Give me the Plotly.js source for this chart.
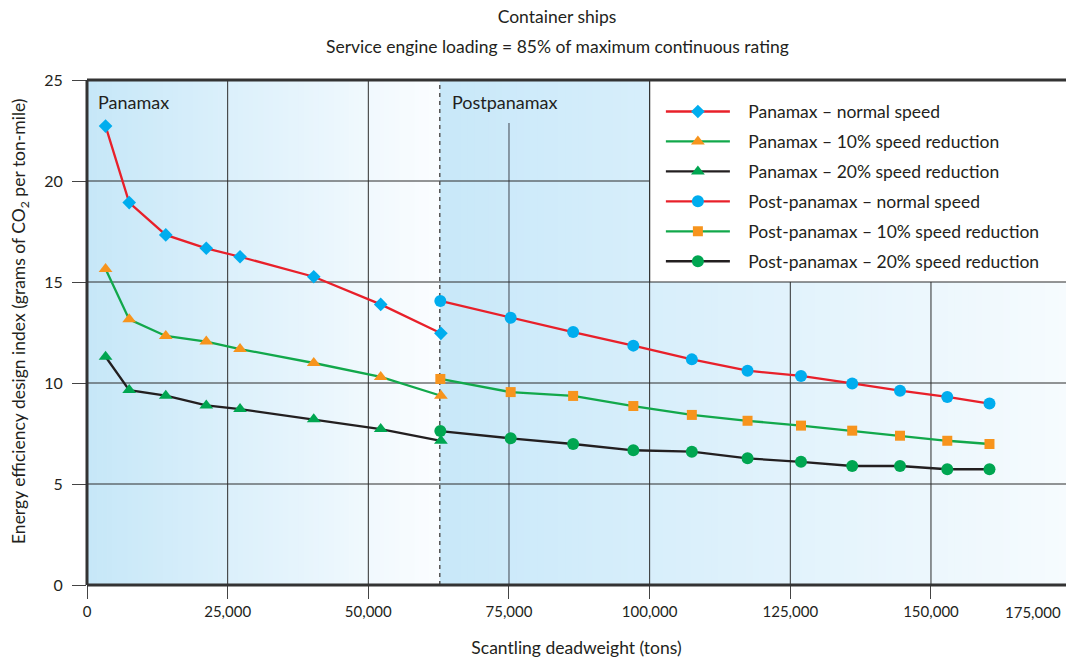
<!DOCTYPE html>
<html><head><meta charset="utf-8">
<script src="https://cdn.plot.ly/plotly-3.0.1.min.js"></script>
<style>html,body{margin:0;padding:0;background:#fff}</style>
</head><body><div id="chart" style="width:1066px;height:658px"></div>
<script>
// ---- data ----
const panamaxDwt = [3300, 7500, 14000, 21200, 27200, 40300, 52200, 62900];
const panamaxNormal = [22.72, 18.93, 17.33, 16.67, 16.25, 15.26, 13.89, 12.46];
const panamax10 = [15.64, 13.15, 12.33, 12.05, 11.68, 10.99, 10.30, 9.37];
const panamax20 = [11.30, 9.65, 9.37, 8.89, 8.71, 8.20, 7.72, 7.14];
const postDwt = [62800, 75300, 86400, 97100, 107500, 117400, 126900, 136000, 144500, 152900, 160400];
const postNormal = [14.06, 13.23, 12.52, 11.85, 11.17, 10.61, 10.35, 9.98, 9.62, 9.31, 8.98];
const post10 = [10.20, 9.55, 9.36, 8.86, 8.42, 8.13, 7.89, 7.64, 7.39, 7.14, 6.98];
const post20 = [7.62, 7.26, 6.98, 6.67, 6.60, 6.27, 6.10, 5.89, 5.89, 5.73, 5.73];
const seriesNames = [
  'Panamax – normal speed',
  'Panamax – 10% speed reduction',
  'Panamax – 20% speed reduction',
  'Post-panamax – normal speed',
  'Post-panamax – 10% speed reduction',
  'Post-panamax – 20% speed reduction'
];
const xTickVals = [0, 25000, 50000, 75000, 100000, 125000, 150000];
const xTickText = ['0', '25,000', '50,000', '75,000', '100,000', '125,000', '150,000'];
const lastXTickLabel = '175,000';
const yTickVals = [0, 5, 10, 15, 20, 25];
const regionBoundary = 62700;
const xMax = 174000;
const yMax = 25;

// ---- styles ----
const FONT = 'Lato, "Open Sans", sans-serif';
const TXT = '#231f20';
const RED = '#e8202a', GREEN = '#12a84b', BLACK = '#231f20';
const BLUE = '#00adee', ORANGE = '#f7941d', MGREEN = '#00a651';
const NB = '\u00a0\u00a0\u00a0';

function mk(x, y, name, lineColor, symbol, mColor, size) {
  return {
    type: 'scatter', mode: 'lines+markers', x: x, y: y, name: NB + name,
    legendgroup: name,
    line: {color: lineColor, width: 2.3},
    marker: {symbol: symbol, color: mColor, size: size, line: {width: 0}},
    hoverinfo: 'x+y+name'
  };
}
const traces = [
  mk(panamaxDwt, panamaxNormal, seriesNames[0], RED, 'diamond', BLUE, 10.5),
  mk(panamaxDwt, panamax10, seriesNames[1], GREEN, 'triangle-up', ORANGE, 12),
  mk(panamaxDwt, panamax20, seriesNames[2], BLACK, 'triangle-up', MGREEN, 12),
  mk(postDwt, postNormal, seriesNames[3], RED, 'circle', BLUE, 12),
  mk(postDwt, post10, seriesNames[4], GREEN, 'square', ORANGE, 10),
  mk(postDwt, post20, seriesNames[5], BLACK, 'circle', MGREEN, 12)
];

// ---- background gradients (stripes) ----
function hex2rgb(h){return [parseInt(h.substr(1,2),16),parseInt(h.substr(3,2),16),parseInt(h.substr(5,2),16)];}
function lerp(c1, c2, t){const a=hex2rgb(c1),b=hex2rgb(c2);return 'rgb('+a.map((v,i)=>Math.round(v+(b[i]-v)*t)).join(',')+')';}
const shapes = [];
function gradient(x0, x1, c0, c1, n) {
  for (let i = 0; i < n; i++) {
    shapes.push({type:'rect', layer:'below', xref:'x', yref:'y',
      x0: x0 + (x1-x0)*i/n, x1: x0 + (x1-x0)*(i+1)/n + (x1-x0)*0.002, y0: 0, y1: yMax,
      fillcolor: lerp(c0, c1, i/(n-1)), line:{width:0}});
  }
}
gradient(0, regionBoundary, '#c6e7f8', '#fbfdff', 70);
gradient(regionBoundary, xMax, '#c8e8f9', '#f6fbfe', 90);

// ---- grid lines ----
const GRID = '#2d2d2d';
function vline(x, y0, y1, color, w){shapes.push({type:'line',layer:'between',xref:'x',yref:'y',x0:x,x1:x,y0:y0,y1:y1,line:{color:color,width:w}});}
function hline(y, x0, x1, color, w){shapes.push({type:'line',layer:'between',xref:'x',yref:'y',x0:x0,x1:x1,y0:y,y1:y,line:{color:color,width:w}});}
vline(25000, 0, 25, GRID, 1);
vline(50000, 0, 25, GRID, 1);
vline(75000, 0, 22.87, '#6f7d88', 1.5);
vline(100000, 0, 15, GRID, 1);
vline(125000, 0, 15, GRID, 1);
vline(150000, 0, 15, GRID, 1);
hline(5, 0, xMax, GRID, 1);
hline(10, 0, xMax, GRID, 1);
hline(15, 0, 100000, GRID, 1);
hline(20, 0, 100000, GRID, 1);
// legend box
shapes.push({type:'rect',layer:'between',xref:'x',yref:'y',x0:100000,x1:xMax*1.01,y0:15,y1:25,fillcolor:'#ffffff',line:{color:GRID,width:1.2}});
// region boundary (dashed)
shapes.push({type:'line',layer:'between',xref:'x',yref:'y',x0:regionBoundary,x1:regionBoundary,y0:0,y1:25,line:{color:'#555',width:1.5,dash:'4px,4px'}});
// frame
shapes.push({type:'line',layer:'above',xref:'paper',yref:'paper',x0:0,x1:0,y0:0,y1:1,line:{color:'#333',width:3}});
shapes.push({type:'line',layer:'above',xref:'paper',yref:'paper',x0:0,x1:1,y0:1,y1:1,line:{color:'#333',width:3}});
shapes.push({type:'line',layer:'above',xref:'paper',yref:'paper',x0:0,x1:1,y0:0,y1:0,line:{color:'#333',width:3}});

const annotations = [
  {text:'Service engine loading = 85% of maximum continuous rating', xref:'paper', yref:'paper', x:0.4806, y:1.0673, xanchor:'center', yanchor:'middle', showarrow:false, font:{family:FONT,size:17.5,color:TXT}},
  {text:'Panamax', xref:'x', yref:'y', x:1600, y:23.9, xanchor:'left', yanchor:'middle', showarrow:false, font:{family:FONT,size:18,color:TXT}},
  {text:'Postpanamax', xref:'x', yref:'y', x:64500, y:23.9, xanchor:'left', yanchor:'middle', showarrow:false, font:{family:FONT,size:18,color:TXT}},
  {text:lastXTickLabel, xref:'paper', yref:'paper', x:(1033-87)/979, y:-0.053, xanchor:'center', yanchor:'middle', showarrow:false, font:{family:FONT,size:15,color:TXT}},
  {text:'Energy efficiency design index (grams of CO<sub>2</sub> per ton-mile)', xref:'paper', yref:'paper', x:(20-87)/979, y:(585-321)/505, xanchor:'center', yanchor:'middle', textangle:-90, showarrow:false, font:{family:FONT,size:17.5,color:TXT}}
];

const layout = {
  width: 1066, height: 658,
  margin: {l: 87, r: 0, t: 80, b: 73},
  paper_bgcolor: '#ffffff', plot_bgcolor: '#ffffff',
  font: {family: FONT, size: 15, color: TXT},
  title: {text: 'Container ships', x: 0.5225, xanchor: 'center', y: 1 - 17/658, yanchor: 'middle', yref: 'container', font: {family: FONT, size: 17.5, color: TXT}},
  xaxis: {range: [0, xMax], tickvals: xTickVals, ticktext: xTickText, showgrid: false, zeroline: false, showline: false,
    ticks: 'outside', ticklen: 13, tickcolor: '#444', tickwidth: 1, tickfont: {family: FONT, size: 15, color: TXT},
    title: {text: 'Scantling deadweight (tons)', standoff: 23, font: {family: FONT, size: 17.5, color: TXT}}, fixedrange: true},
  yaxis: {range: [0, yMax], tickvals: yTickVals, showgrid: false, zeroline: false, showline: false,
    ticks: 'outside', ticklen: 14, tickcolor: '#444', tickwidth: 1, ticklabelstandoff: 6, tickfont: {family: FONT, size: 16, color: TXT},
    fixedrange: true},
  showlegend: true,
  legend: {x: 0.5862, xanchor: 'left', y: 0.973, yanchor: 'top', bgcolor: 'rgba(0,0,0,0)', borderwidth: 0,
    itemwidth: 64, tracegroupgap: 4.2, font: {family: FONT, size: 17.5, color: TXT}, traceorder: 'grouped'},
  shapes: shapes,
  annotations: annotations
};
Plotly.newPlot('chart', traces, layout, {displayModeBar: false});
</script></body></html>
